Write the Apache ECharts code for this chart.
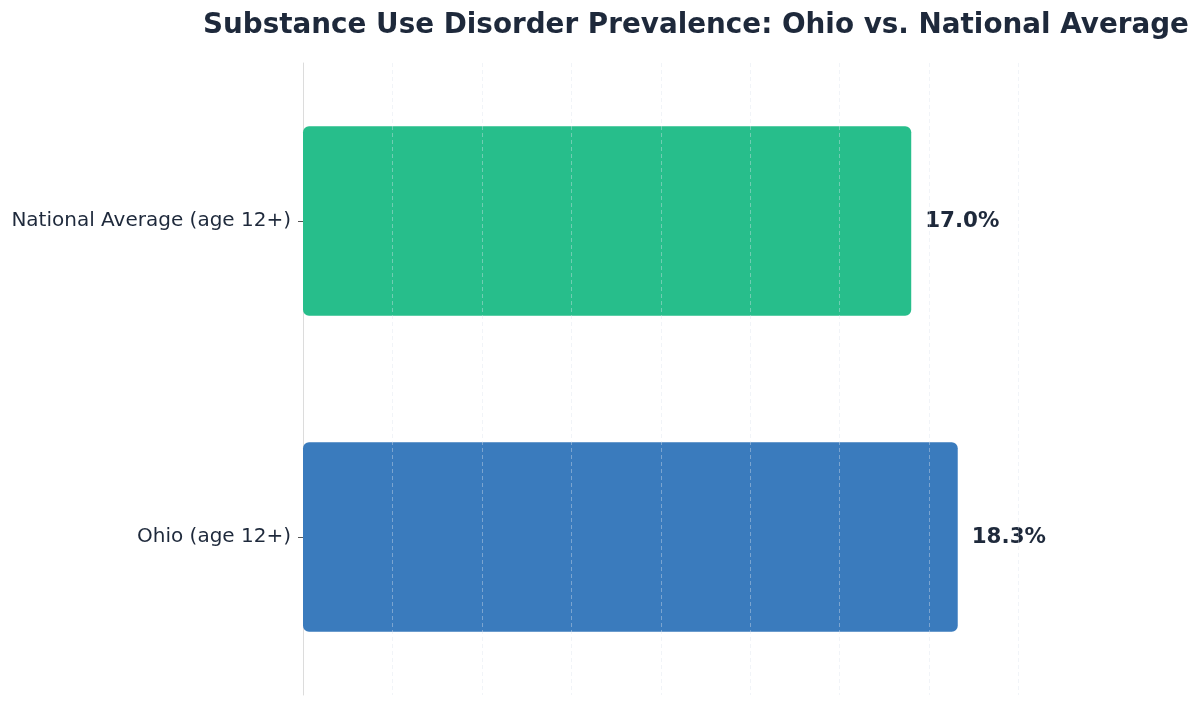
<!DOCTYPE html>
<html>
<head>
<meta charset="utf-8">
<script src="https://cdn.jsdelivr.net/npm/echarts@6/dist/echarts.min.js"></script>
<style>
  html, body { margin: 0; padding: 0; background: #fff; }
  #chartContainer { width: 1200px; height: 705px; }
</style>
</head>
<body>
<div id="chartContainer"></div>
<script>
var categories = ['Ohio (age 12+)', 'National Average (age 12+)'];
var values = [18.3, 17.0];
var barColors = ['#3a7bbd', '#27be8b'];

var chart = echarts.init(document.getElementById('chartContainer'));
var option = {
    backgroundColor: '#ffffff',
    title: {
        text: 'Substance Use Disorder Prevalence: Ohio vs. National Average',
        left: 198,
        top: 7,
        textStyle: {
            fontFamily: 'DejaVu Sans',
            fontSize: 27.8,
            fontWeight: 'bold',
            color: '#1e293b'
        }
    },
    grid: {
        left: 303,
        right: 92,
        top: 63,
        bottom: 10
    },
    xAxis: {
        type: 'value',
        min: 0,
        max: 22.5,
        interval: 2.5,
        z: 3,
        axisLine: {show: false},
        axisTick: {show: false},
        axisLabel: {show: false},
        splitLine: {
            show: true,
            showMinLine: false,
            showMaxLine: false,
            lineStyle: {color: 'rgba(220,228,238,0.4)', type: [4, 3], width: 1}
        }
    },
    yAxis: {
        type: 'category',
        data: categories,
        axisLine: {show: true, lineStyle: {color: '#dcdcdc', width: 1}},
        axisTick: {show: true, length: 5, alignWithLabel: true, lineStyle: {color: '#555'}},
        axisLabel: {
            fontFamily: 'DejaVu Sans',
            fontSize: 20,
            color: '#1e293b',
            margin: 12
        }
    },
    series: [
        {
            type: 'bar',
            barWidth: '60%',
            data: values.map(function (v, i) {
                return {value: v, itemStyle: {color: barColors[i]}};
            }),
            itemStyle: {borderRadius: 6},
            label: {
                show: true,
                position: 'right',
                distance: 14,
                formatter: function (p) { return p.value.toFixed(1) + '%'; },
                fontFamily: 'DejaVu Sans',
                fontSize: 21.4,
                fontWeight: 'bold',
                color: '#1e293b'
            }
        }
    ]
};
chart.setOption(option);
</script>
</body>
</html>
